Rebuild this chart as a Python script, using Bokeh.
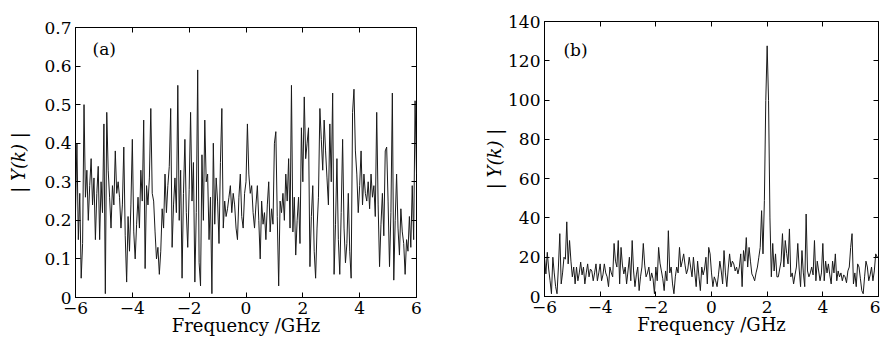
import numpy as np
from bokeh.plotting import figure
from bokeh.layouts import row, column
from bokeh.models import Range1d, FixedTicker, LinearAxis, Label
from bokeh.embed import file_html
from bokeh.resources import INLINE

# ---------------- data ----------------
freq = np.linspace(-6, 6, 241)  # frequency bins, GHz

spectrum_a = [
    0.22, 0.40, 0.15, 0.27, 0.05, 0.14, 0.50, 0.26, 0.33, 0.20,
    0.29, 0.36, 0.24, 0.31, 0.15, 0.27, 0.34, 0.15, 0.30, 0.22,
    0.45, 0.01, 0.48, 0.33, 0.26, 0.18, 0.29, 0.24, 0.38, 0.27,
    0.30, 0.26, 0.18, 0.24, 0.39, 0.16, 0.04, 0.21, 0.12, 0.24,
    0.41, 0.17, 0.10, 0.19, 0.26, 0.18, 0.33, 0.25, 0.46, 0.075,
    0.29, 0.24, 0.31, 0.49, 0.27, 0.25, 0.17, 0.10, 0.13, 0.06,
    0.12, 0.23, 0.18, 0.32, 0.22, 0.29, 0.34, 0.49, 0.13, 0.24,
    0.31, 0.22, 0.55, 0.20, 0.33, 0.05, 0.27, 0.41, 0.22, 0.13,
    0.28, 0.48, 0.25, 0.35, 0.04, 0.22, 0.59, 0.09, 0.03, 0.37,
    0.20, 0.46, 0.30, 0.32, 0.15, 0.26, 0.01, 0.40, 0.19, 0.31,
    0.25, 0.14, 0.35, 0.49, 0.18, 0.25, 0.21, 0.23, 0.26, 0.29,
    0.22, 0.27, 0.24, 0.18, 0.15, 0.26, 0.32, 0.21, 0.18, 0.27,
    0.30, 0.45, 0.32, 0.27, 0.29, 0.22, 0.18, 0.24, 0.29, 0.20,
    0.10, 0.25, 0.19, 0.22, 0.15, 0.24, 0.30, 0.17, 0.23, 0.19,
    0.40, 0.43, 0.21, 0.03, 0.25, 0.22, 0.27, 0.20, 0.32, 0.25,
    0.36, 0.18, 0.55, 0.17, 0.26, 0.11, 0.20, 0.26, 0.14, 0.44,
    0.30, 0.52, 0.36, 0.40, 0.44, 0.08, 0.21, 0.29, 0.12, 0.05,
    0.18, 0.26, 0.49, 0.41, 0.33, 0.46, 0.38, 0.31, 0.24, 0.45,
    0.30, 0.53, 0.06, 0.19, 0.36, 0.15, 0.06, 0.22, 0.41, 0.18,
    0.09, 0.14, 0.27, 0.12, 0.05, 0.48, 0.54, 0.38, 0.32, 0.22,
    0.29, 0.38, 0.24, 0.32, 0.27, 0.25, 0.30, 0.23, 0.32, 0.26,
    0.29, 0.21, 0.48, 0.24, 0.08, 0.19, 0.27, 0.16, 0.38, 0.39,
    0.25, 0.08, 0.22, 0.53, 0.045, 0.20, 0.32, 0.18, 0.11, 0.23,
    0.17, 0.14, 0.06, 0.15, 0.12, 0.21, 0.13, 0.29, 0.15, 0.51, 0.32,
]

spectrum_b = [
    20, 11.5, 22.5, 14, 8, 1.4, 20, 12, 5, 1.4,
    15, 32, 6.4, 12, 20, 19, 38, 16.6, 28.5, 18,
    10, 15, 6.4, 15, 8, 12, 17.5, 11, 15, 6.4,
    12, 16.6, 10, 14, 13, 8, 12, 16.6, 8, 12,
    16.6, 8, 11, 16.6, 12, 10, 5, 15, 12, 10,
    27, 18, 15, 28.5, 6.4, 25, 16, 11.5, 15, 6.4,
    13, 20, 8, 28.5, 13, 5, 11, 15, 3, 10,
    15, 27, 16, 10, 12, 15, 8, 12, 9, 1.4,
    15, 8, 25, 17, 13, 9, 3, 13, 8, 33.5,
    12, 15, 6.4, 1.4, 10, 15, 12, 25, 15, 18,
    21.7, 16, 11.5, 14, 20, 15, 10, 20, 12, 5,
    18, 10, 3, 15, 11, 14, 20, 6.4, 25, 21.7,
    12, 5, 10, 8, 5, 11, 18, 13, 6.4, 23.4,
    12, 5, 14, 21.7, 15, 18, 16.6, 13, 15, 11.5,
    15, 21.7, 5, 23.4, 18, 30, 15, 25, 18, 11.5,
    10, 8, 12, 15, 20, 25, 43.7, 21.7, 48.8, 99.7,
    127.6, 99.7, 40, 10, 27, 13, 21.7, 10, 10, 14,
    18, 32, 15, 28.5, 22, 16.6, 34.4, 10, 12, 6.4,
    11, 15, 27, 14, 5, 23.4, 12, 5, 42, 13,
    10, 12, 15, 11, 28.5, 8, 18, 13, 8, 12,
    27, 8, 18, 12, 16.6, 11, 6.4, 18, 12, 21.7,
    8, 13, 10, 12, 8, 11, 10, 7, 13, 15,
    25, 32, 6.4, 12, 5, 16.6, 15, 9, 3, 1.4,
    10, 18, 15, 8, 11, 15, 8, 13, 21.7, 20, 20,
]

x_ticks = [-6, -4, -2, 0, 2, 4, 6]
x_tick_labels = ["\u22126", "\u22124", "\u22122", "0", "2", "4", "6"]
y_ticks_a = [0, 0.1, 0.2, 0.3, 0.4, 0.5, 0.6, 0.7]
y_tick_labels_a = ["0", "0.1", "0.2", "0.3", "0.4", "0.5", "0.6", "0.7"]
y_ticks_b = [0, 20, 40, 60, 80, 100, 120, 140]
y_tick_labels_b = ["0", "20", "40", "60", "80", "100", "120", "140"]
x_label = "Frequency /GHz"
y_label = "| Y(k) |"

FONT = "DejaVu Serif"


def style_axis(ax, ticks, labels, show_labels=True):
    ax.ticker = FixedTicker(ticks=ticks)
    ax.major_tick_in = 5
    ax.major_tick_out = 0
    ax.major_tick_line_color = "black"
    ax.minor_tick_line_color = None
    ax.axis_line_color = "black"
    ax.major_label_text_font = FONT
    ax.major_label_text_color = "black"
    if show_labels:
        ax.major_label_overrides = {t: l for t, l in zip(ticks, labels)}
        ax.major_label_text_font_size = "17px"
        ax.major_label_standoff = 4
    else:
        ax.major_label_overrides = {t: "" for t in ticks}
        ax.major_label_text_font_size = "6px"
        ax.major_label_standoff = 0
        ax.axis_line_color = None


def panel(y, ymax, yticks, ylabels, bl, br, bt, bb, letter, lx, ly, ylab_standoff):
    p = figure(width=440, height=340, output_backend="svg", toolbar_location=None,
               x_range=Range1d(-6, 6), y_range=Range1d(0, ymax),
               min_border_left=bl, min_border_right=br, min_border_top=bt, min_border_bottom=bb)
    p.grid.visible = False
    p.outline_line_color = "black"
    p.outline_line_width = 1
    p.line(freq, y, line_color="#1a1a1a", line_width=1)

    bottom = p.below[0]
    style_axis(bottom, x_ticks, x_tick_labels)
    bottom.axis_label = x_label
    bottom.axis_label_text_font = FONT
    bottom.axis_label_text_font_style = "normal"
    bottom.axis_label_text_font_size = "18px"
    bottom.axis_label_text_color = "black"
    bottom.axis_label_standoff = -2

    left = p.left[0]
    style_axis(left, yticks, ylabels)
    left.axis_label = y_label
    left.axis_label_text_font = FONT
    left.axis_label_text_font_style = "italic"
    left.axis_label_text_font_size = "18px"
    left.axis_label_text_color = "black"
    left.axis_label_standoff = ylab_standoff

    top = LinearAxis()
    style_axis(top, x_ticks, x_tick_labels, show_labels=False)
    p.add_layout(top, "above")
    right = LinearAxis()
    style_axis(right, yticks, ylabels, show_labels=False)
    p.add_layout(right, "right")

    p.add_layout(Label(x=lx, y=ly, text=letter, text_font=FONT, text_font_size="17px",
                       text_color="black", text_baseline="top", text_align="left"))
    return p


pa = panel(spectrum_a, 0.7, y_ticks_a, y_tick_labels_a, 75, 24, 27, 43,
           "(a)", -5.4, 0.671, 12)
pb = panel(spectrum_b, 140, y_ticks_b, y_tick_labels_b, 104, 2, 21, 44,
           "(b)", -5.32, 130.8, 0)

layout = row(column(pa), column(pb))
open("out.html", "w").write(file_html(layout, INLINE))
